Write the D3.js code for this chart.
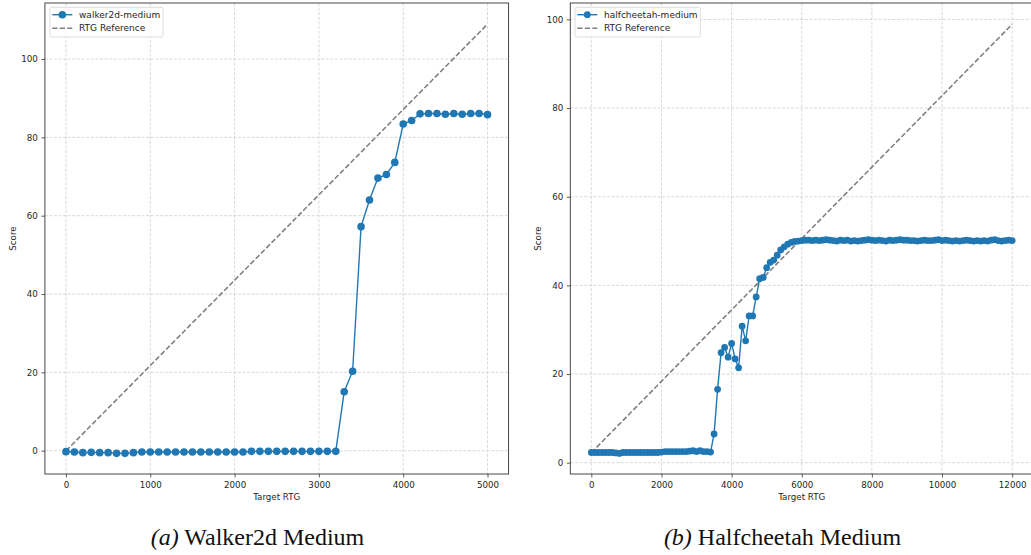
<!DOCTYPE html>
<html>
<head>
<meta charset="utf-8">
<script src="https://cdn.jsdelivr.net/npm/d3@7"></script>
<style>
  html, body { margin: 0; padding: 0; background: #fff; }
  svg { display: block; }
</style>
</head>
<body>
<svg id="chart" width="1031" height="555"></svg>
<script>
// ---------------- DATA ----------------
const walkerTargets = [
  0,100,200,300,400,500,600,700,800,900,
  1000,1100,1200,1300,1400,1500,1600,1700,1800,1900,
  2000,2100,2200,2300,2400,2500,2600,2700,2800,2900,
  3000,3100,3200,3300,3400,3500,3600,3700,3800,3900,
  4000,4100,4200,4300,4400,4500,4600,4700,4800,4900,
  5000
];
const walkerScores = [
  -0.25,-0.34,-0.5,-0.42,-0.5,-0.5,-0.68,-0.68,-0.5,-0.34,
  -0.34,-0.34,-0.34,-0.34,-0.34,-0.34,-0.34,-0.34,-0.34,-0.34,
  -0.34,-0.34,-0.17,-0.17,-0.17,-0.17,-0.17,-0.17,-0.17,-0.17,
  -0.17,-0.17,-0.17,15.05,20.3,57.2,64.0,69.6,70.5,73.6,
  83.4,84.3,86.0,86.1,86.1,85.9,86.1,85.9,86.1,86.1,
  85.8
];
const walkerRefTargets = [0, 5000];
const walkerRefScores = [-0.04, 108.9];

const cheetahTargets = [
  0,100,200,300,400,500,600,700,800,900,
  1000,1100,1200,1300,1400,1500,1600,1700,1800,1900,
  2000,2100,2200,2300,2400,2500,2600,2700,2800,2900,
  3000,3100,3200,3300,3400,3500,3600,3700,3800,3900,
  4000,4100,4200,4300,4400,4500,4600,4700,4800,4900,
  5000,5100,5200,5300,5400,5500,5600,5700,5800,5900,
  6000,6100,6200,6300,6400,6500,6600,6700,6800,6900,
  7000,7100,7200,7300,7400,7500,7600,7700,7800,7900,
  8000,8100,8200,8300,8400,8500,8600,8700,8800,8900,
  9000,9100,9200,9300,9400,9500,9600,9700,9800,9900,
  10000,10100,10200,10300,10400,10500,10600,10700,10800,10900,
  11000,11100,11200,11300,11400,11500,11600,11700,11800,11900,
  12000
];
const cheetahScores = [
  2.3,2.3,2.3,2.3,2.3,2.3,2.3,2.2,2.1,2.3,
  2.3,2.3,2.3,2.3,2.3,2.3,2.3,2.3,2.3,2.3,
  2.4,2.5,2.5,2.5,2.5,2.5,2.5,2.5,2.6,2.7,
  2.5,2.7,2.5,2.5,2.4,6.5,16.55,24.8,26.0,23.8,
  26.9,23.4,21.4,30.8,27.5,33.1,33.1,37.4,41.5,41.8,
  44.0,45.2,45.7,46.8,48.0,48.7,49.3,49.7,49.9,50.0,
  50.1,50.2,50.2,50.1,50.2,50.1,50.2,50.3,50.2,50.1,
  50.0,50.2,50.1,50.2,50.0,50.1,50.0,50.1,50.2,50.3,
  50.2,50.1,50.2,50.1,50.0,50.2,50.1,50.2,50.3,50.2,
  50.2,50.1,50.1,50.0,50.1,50.2,50.1,50.1,50.2,50.3,
  50.1,50.2,50.1,50.0,50.1,50.0,50.1,50.2,50.1,50.0,
  50.1,50.0,50.1,50.0,50.2,50.3,50.1,50.0,50.1,50.2,
  50.1
];
const cheetahRefTargets = [0, 12000];
const cheetahRefScores = [2.26, 98.9];

const walkerXTicks = [0, 1000, 2000, 3000, 4000, 5000];
const cheetahXTicks = [0, 2000, 4000, 6000, 8000, 10000, 12000];
const scoreTicks = [0, 20, 40, 60, 80, 100];

const walkerLegend = ["walker2d-medium", "RTG Reference"];
const cheetahLegend = ["halfcheetah-medium", "RTG Reference"];
const xLabel = "Target RTG";
const yLabel = "Score";
const captions = [["(a)", " Walker2d Medium"], ["(b)", " Halfcheetah Medium"]];

// ---------------- DRAWING ----------------
const svg = d3.select("#chart");
const BLUE = "#1f77b4";
const FONT = "'DejaVu Sans', sans-serif";
const FS = "8.7px";

function panel(cfg) {
  const g = svg.append("g");
  const x = d3.scaleLinear().domain(cfg.xDomain).range([cfg.left, cfg.right]);
  const y = d3.scaleLinear().domain(cfg.yDomain).range([cfg.bottom, cfg.top]);

  const clipId = "clip" + cfg.id;
  svg.append("clipPath").attr("id", clipId)
    .append("rect").attr("x", cfg.left).attr("y", cfg.top)
    .attr("width", cfg.right - cfg.left).attr("height", cfg.bottom - cfg.top);

  // grid
  const grid = g.append("g").attr("stroke", "#cfcfcf").attr("stroke-width", 0.8)
    .attr("stroke-dasharray", "3,1.6");
  grid.selectAll(".vx").data(cfg.xTicks).join("line")
    .attr("x1", d => x(d)).attr("x2", d => x(d))
    .attr("y1", cfg.top).attr("y2", cfg.bottom);
  grid.selectAll(".hy").data(scoreTicks).join("line")
    .attr("x1", cfg.left).attr("x2", cfg.right)
    .attr("y1", d => y(d)).attr("y2", d => y(d));

  const plot = g.append("g").attr("clip-path", `url(#${clipId})`);

  // reference line
  const refPts = cfg.refX.map((d, i) => [d, cfg.refY[i]]);
  plot.append("path")
    .attr("d", d3.line().x(d => x(d[0])).y(d => y(d[1]))(refPts))
    .attr("fill", "none").attr("stroke", "#808080").attr("stroke-width", 1.6)
    .attr("stroke-dasharray", "5.2,2.3");

  // data
  const pts = cfg.xs.map((d, i) => [d, cfg.ys[i]]);
  plot.append("path")
    .attr("d", d3.line().x(d => x(d[0])).y(d => y(d[1]))(pts))
    .attr("fill", "none").attr("stroke", BLUE).attr("stroke-width", 1.4);
  plot.selectAll("circle.pt").data(pts).join("circle")
    .attr("cx", d => x(d[0])).attr("cy", d => y(d[1]))
    .attr("r", cfg.r).attr("fill", BLUE);

  // axes
  const xAxis = d3.axisBottom(x).tickValues(cfg.xTicks).tickFormat(d3.format("d"))
    .tickSize(3.5).tickPadding(3.5);
  const yAxis = d3.axisLeft(y).tickValues(scoreTicks).tickFormat(d3.format("d"))
    .tickSize(3.5).tickPadding(3.5);
  const gx = g.append("g").attr("transform", `translate(0,${cfg.bottom})`).call(xAxis);
  const gy = g.append("g").attr("transform", `translate(${cfg.left},0)`).call(yAxis);
  [gx, gy].forEach(a => {
    a.select(".domain").remove();
    a.selectAll(".tick line").attr("stroke", "#333").attr("stroke-width", 0.8);
    a.selectAll(".tick text").attr("fill", "#262626")
      .style("font-family", FONT).style("font-size", FS);
  });
  gx.selectAll(".tick text").attr("dy", "0.85em");

  // spines
  g.append("rect").attr("x", cfg.left).attr("y", cfg.top)
    .attr("width", cfg.right - cfg.left).attr("height", cfg.bottom - cfg.top)
    .attr("fill", "none").attr("stroke", "#333").attr("stroke-width", 0.9);

  // labels
  g.append("text").attr("x", (cfg.left + cfg.right) / 2).attr("y", cfg.bottom + 25.5)
    .attr("text-anchor", "middle").style("font-family", FONT).style("font-size", FS)
    .attr("fill", "#262626").text(xLabel);
  g.append("text").attr("transform", `translate(${cfg.ylabelX},${(cfg.top + cfg.bottom) / 2}) rotate(-90)`)
    .attr("text-anchor", "middle").attr("dominant-baseline", "central")
    .style("font-family", FONT).style("font-size", FS)
    .attr("fill", "#262626").text(yLabel);

  // legend
  const lg = g.append("g");
  lg.append("rect").attr("x", cfg.legX).attr("y", 7.3).attr("width", cfg.legW).attr("height", 29.7)
    .attr("rx", 2).attr("fill", "#fff").attr("fill-opacity", 0.85)
    .attr("stroke", "#d4d4d4").attr("stroke-width", 0.8);
  const lx0 = cfg.legX + 2.3, lx1 = cfg.legX + 22.3;
  lg.append("line").attr("x1", lx0).attr("x2", lx1).attr("y1", 14.7).attr("y2", 14.7)
    .attr("stroke", BLUE).attr("stroke-width", 1.4);
  lg.append("circle").attr("cx", (lx0 + lx1) / 2).attr("cy", 14.7).attr("r", cfg.r).attr("fill", BLUE);
  lg.append("line").attr("x1", lx0).attr("x2", lx1).attr("y1", 28.2).attr("y2", 28.2)
    .attr("stroke", "#808080").attr("stroke-width", 1.6).attr("stroke-dasharray", "5.2,2.3");
  lg.selectAll("text.leg").data(cfg.legend).join("text")
    .attr("x", cfg.legX + 29).attr("y", (d, i) => 14.7 + i * 13.5)
    .attr("dominant-baseline", "central")
    .style("font-family", FONT).style("font-size", "9px").attr("fill", "#262626")
    .text(d => d);

  // caption
  const cap = g.append("text").attr("x", cfg.capX).attr("y", 545)
    .attr("text-anchor", "middle")
    .style("font-family", "'Liberation Serif', 'Times New Roman', serif").style("font-size", "24px")
    .attr("fill", "#111");
  cap.append("tspan").style("font-style", "italic").text(cfg.caption[0]);
  cap.append("tspan").text(cfg.caption[1]);
}

panel({
  id: "a", xs: walkerTargets, ys: walkerScores, refX: walkerRefTargets, refY: walkerRefScores,
  xDomain: [-250, 5250], yDomain: [-5.95, 114.3],
  left: 44.9, right: 508.6, top: 3, bottom: 474,
  xTicks: walkerXTicks, r: 3.8, ylabelX: 13,
  legX: 50, legW: 113, legend: walkerLegend, capX: 257.5, caption: captions[0]
});
panel({
  id: "b", xs: cheetahTargets, ys: cheetahScores, refX: cheetahRefTargets, refY: cheetahRefScores,
  xDomain: [-600, 12600], yDomain: [-2.55, 103.7],
  left: 570.3, right: 1033.2, top: 3, bottom: 474,
  xTicks: cheetahXTicks, r: 3.4, ylabelX: 537.7,
  legX: 575, legW: 125.3, legend: cheetahLegend, capX: 782.5, caption: captions[1]
});
</script>
</body>
</html>
